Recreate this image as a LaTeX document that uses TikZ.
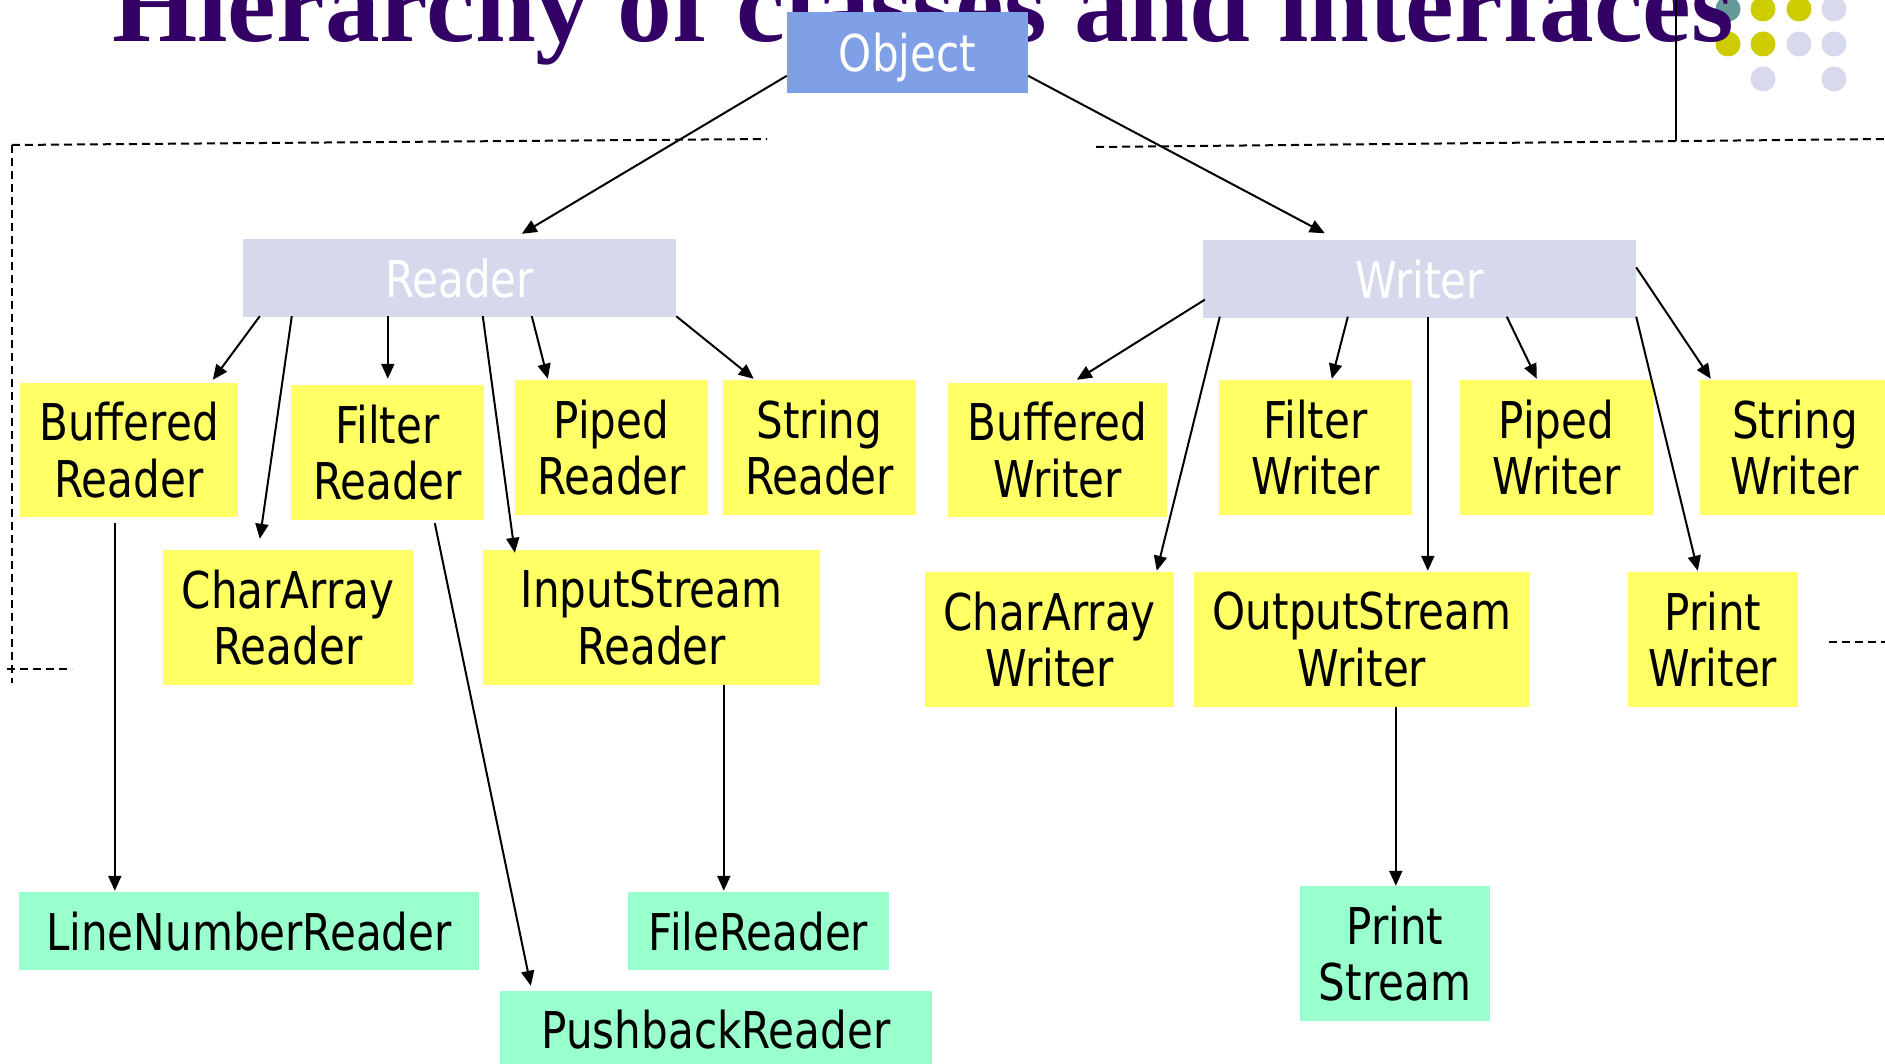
\documentclass[tikz,border=0pt]{standalone}
\usepackage{fontspec}
\usetikzlibrary{arrows.meta,calc}
\newfontfamily\boxfont[FakeStretch=0.83]{DejaVu Sans}
\newfontfamily\titlefont{Liberation Serif}
\definecolor{objblue}{RGB}{127,159,230}
\definecolor{rootlav}{RGB}{214,216,236}
\definecolor{classyellow}{RGB}{255,255,102}
\definecolor{leafgreen}{RGB}{153,255,204}
\definecolor{titlepurple}{RGB}{51,0,102}
\definecolor{dotteal}{RGB}{102,153,153}
\definecolor{dotolive}{RGB}{204,204,0}
\definecolor{dotlav}{RGB}{217,217,237}
\begin{document}
\begin{tikzpicture}[x=1pt,y=-1pt,
  box/.style={rectangle, inner sep=0pt, align=center,
    font=\boxfont\fontsize{50.7}{56.5}\selectfont},
  ybox/.style={box, fill=classyellow, minimum height=135pt},
  gbox/.style={box, fill=leafgreen},
  rootbox/.style={box, fill=rootlav, text=white, text depth=0pt,
    minimum width=433pt, minimum height=78pt},
  link/.style={line width=2pt, -{Triangle[length=15pt,width=13pt]}},
  guide/.style={line width=2pt, dash pattern=on 8pt off 5pt},
  dot/.style={circle, inner sep=0pt, minimum size=25pt}]
\useasboundingbox (0,0) rectangle (1885,1064);

% decorative dots
\node[dot, fill=dotteal]  (d11) at (1728,9) {};
\node[dot, fill=dotolive] (d12) at (1763,9) {};
\node[dot, fill=dotolive] (d13) at (1799,9) {};
\node[dot, fill=dotlav]   (d14) at (1834,9) {};
\node[dot, fill=dotolive] (d21) at (1728,44) {};
\node[dot, fill=dotolive] (d22) at (1763,44) {};
\node[dot, fill=dotlav]   (d23) at (1799,44) {};
\node[dot, fill=dotlav]   (d24) at (1834,44) {};
\node[dot, fill=dotlav]   (d32) at (1763,79) {};
\node[dot, fill=dotlav]   (d34) at (1834,79) {};

% title
\node[anchor=base west, inner sep=0pt, text=titlepurple,
  font=\titlefont\bfseries\fontsize{109.5}{120}\selectfont]
  (title) at (112,42) {Hierarchy of classes and interfaces};

% guide lines
\draw[line width=2pt] (1676,0) -- (1676,141);
\draw[guide] (12,145) -- (767,139);
\draw[guide] (12,145) -- (12,683);
\draw[guide] (7,669) -- (72,669);
\draw[guide] (1096,147) -- (1885,139);
\draw[guide] (1829,642) -- (1885,642);

% root classes
\node[box, fill=objblue, text=white, text depth=0pt,
  minimum width=241pt, minimum height=81pt] (obj) at (907.5,52.5) {Object};
\node[rootbox] (rdr) at (459.5,278) {Reader};
\node[rootbox] (wtr) at (1419.5,279.5) {Writer};

% reader subclasses
\node[ybox, minimum width=218pt, minimum height=134pt] (bufr) at (129,450) {Buffered\\Reader};
\node[ybox, minimum width=193pt] (filr) at (387.5,452.5) {Filter\\Reader};
\node[ybox, minimum width=193pt] (pipr) at (611.5,447.5) {Piped\\Reader};
\node[ybox, minimum width=193pt] (strr) at (819.5,447.5) {String\\Reader};
\node[ybox, minimum width=250pt] (car) at (288,617.5) {CharArray\\Reader};
\node[ybox, minimum width=337pt] (isr) at (651.5,617.5) {InputStream\\Reader};

% writer subclasses
\node[ybox, minimum width=219pt, minimum height=134pt] (bufw) at (1057.5,450) {Buffered\\Writer};
\node[ybox, minimum width=193pt] (filw) at (1315.5,447.5) {Filter\\Writer};
\node[ybox, minimum width=193pt] (pipw) at (1556.5,447.5) {Piped\\Writer};
\node[ybox, minimum width=190pt] (strw) at (1795,447.5) {String\\Writer};
\node[ybox, minimum width=249pt] (caw) at (1049.5,639.5) {CharArray\\Writer};
\node[ybox, minimum width=336pt] (osw) at (1362,639.5) {OutputStream\\Writer};
\node[ybox, minimum width=170pt] (prw) at (1713,639.5) {Print\\Writer};

% third level
\node[gbox, text depth=0pt, minimum width=460pt, minimum height=78pt] (lnr) at (249,931) {LineNumberReader};
\node[gbox, text depth=0pt, minimum width=261pt, minimum height=78pt] (fr) at (758.5,931) {FileReader};
\node[gbox, text depth=0pt, minimum width=432pt, minimum height=76pt] (pbr) at (716,1029) {PushbackReader};
\node[gbox, minimum width=190pt, minimum height=135pt] (ps) at (1395,953.5) {Print\\Stream};

% inheritance arrows
\draw[link] ($(obj.north west)+(0,64)$) -- ($(rdr.north west)+(279,-5)$);
\draw[link] ($(obj.north east)+(0,64)$) -- ($(wtr.north west)+(122,-7)$);

\draw[link] ($(rdr.south west)+(17,-1)$)  -- ($(bufr.north west)+(193,-3)$);
\draw[link] ($(rdr.south west)+(49,-1)$)  -- ($(car.north west)+(97,-11)$);
\draw[link] ($(rdr.south west)+(145,-1)$) -- ($(filr.north west)+(97,-6)$);
\draw[link] ($(rdr.south west)+(240,-1)$) -- ($(isr.north west)+(32,3)$);
\draw[link] ($(rdr.south west)+(289,-1)$) -- ($(pipr.north west)+(33,-1)$);
\draw[link] ($(rdr.south east)+(0,-1)$)   -- ($(strr.north west)+(31,-1)$);

\draw[link] ($(wtr.south west)+(2,-19)$)  -- ($(bufw.north west)+(129,-3)$);
\draw[link] ($(wtr.south west)+(17,-2)$)  -- ($(caw.north west)+(232,-1)$);
\draw[link] ($(wtr.south west)+(145,-2)$) -- ($(filw.north west)+(113,-1)$);
\draw[link] ($(wtr.south west)+(225,-2)$) -- ($(osw.north west)+(234,-1)$);
\draw[link] ($(wtr.south west)+(304,-2)$) -- ($(pipw.north west)+(77,-1)$);
\draw[link] ($(wtr.south east)+(0,-2)$)   -- ($(prw.north west)+(70,-1)$);
\draw[link] ($(wtr.north east)+(0,27)$)   -- ($(strw.north west)+(11,-1)$);

\draw[link] ($(bufr.south west)+(95,6)$)  -- ($(lnr.north west)+(96,-1)$);
\draw[link] ($(filr.south west)+(144,3)$) -- ($(pbr.north west)+(31,-5)$);
\draw[link] ($(isr.south west)+(241,0)$)  -- ($(fr.north west)+(96,-1)$);
\draw[link] ($(osw.south west)+(202,0)$)  -- ($(ps.north west)+(96,0)$);
\end{tikzpicture}
\end{document}
